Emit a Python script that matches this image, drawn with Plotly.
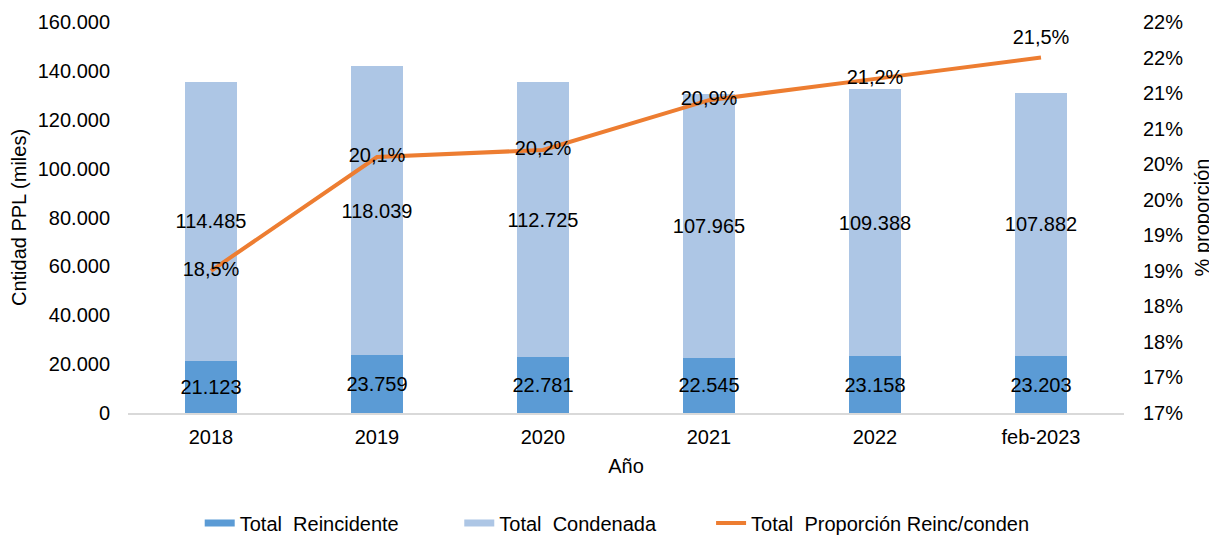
import plotly.graph_objects as go

categorias = ["2018", "2019", "2020", "2021", "2022", "feb-2023"]
reincidente = [21123, 23759, 22781, 22545, 23158, 23203]
condenada = [114485, 118039, 112725, 107965, 109388, 107882]
proporcion = [18.5, 20.1, 20.2, 20.9, 21.2, 21.5]

y_ticks = [0, 20000, 40000, 60000, 80000, 100000, 120000, 140000, 160000]
y2_ticks = [16.5, 17, 17.5, 18, 18.5, 19, 19.5, 20, 20.5, 21, 21.5, 22]
y2_ticktext = ["17%", "17%", "18%", "18%", "19%", "19%", "20%", "20%", "21%", "21%", "22%", "22%"]

nombres = ["Total\u00a0 Reincidente", "Total\u00a0 Condenada", "Total\u00a0 Proporción Reinc/conden"]
colores = ["#5B9BD5", "#ADC6E5", "#ED7D31"]

FONT = "Liberation Sans, Arial, sans-serif"
FS = 20

fig = go.Figure()
fig.add_trace(go.Bar(
    x=categorias, y=reincidente, name=nombres[0], showlegend=False,
    marker=dict(color=colores[0], line=dict(width=0)),
    texttemplate="%{y:,d}", textposition="inside", insidetextanchor="middle",
    textangle=0, constraintext="none",
    textfont=dict(color="#000000", size=FS, family=FONT),
))
fig.add_trace(go.Bar(
    x=categorias, y=condenada, name=nombres[1], showlegend=False,
    marker=dict(color=colores[1], line=dict(width=0)),
    texttemplate="%{y:,d}", textposition="inside", insidetextanchor="middle",
    textangle=0, constraintext="none",
    textfont=dict(color="#000000", size=FS, family=FONT),
))
fig.add_trace(go.Scatter(
    x=categorias, y=proporcion, name=nombres[2], showlegend=False,
    yaxis="y2", mode="lines+markers+text",
    line=dict(color=colores[2], width=4),
    marker=dict(size=12, color="rgba(0,0,0,0)"),
    texttemplate="%{y:.1f}%",
    textposition=["middle center"] * 5 + ["top center"],
    textfont=dict(color="#000000", size=FS, family=FONT),
    cliponaxis=False,
))
# legend entries (wide swatches like the original); trailing spaces give the gaps
for nombre, color, ancho, extra in zip(nombres, colores, [7, 7, 4], ["\u00a0" * 10, "\u00a0" * 9, ""]):
    fig.add_trace(go.Scatter(
        x=[None], y=[None], mode="lines", name=nombre + extra,
        line=dict(color=color, width=ancho), showlegend=True, hoverinfo="skip",
    ))

fig.update_layout(
    barmode="stack",
    bargap=0.687,
    separators=",.",
    width=1209, height=527,
    margin=dict(l=120, r=93, t=14, b=122, autoexpand=False),
    paper_bgcolor="white", plot_bgcolor="white",
    font=dict(family=FONT, size=FS, color="#000000"),
    showlegend=True,
    legend=dict(orientation="h", x=0.072, xanchor="left", y=-0.2813, yanchor="middle",
                font=dict(size=FS, family=FONT), traceorder="normal"),
    xaxis=dict(
        showline=True, linecolor="#D9D9D9", linewidth=1.5,
        showgrid=False, ticks="", ticklabelstandoff=5,
        title=dict(text="Año", standoff=12, font=dict(size=FS)),
        tickfont=dict(size=FS),
    ),
    yaxis=dict(
        range=[0, 160000], tickvals=y_ticks,
        tickformat=",d", showgrid=False, zeroline=False, showline=False, ticks="",
        ticklabelstandoff=17,
        title=dict(text="Cntidad PPL (miles)", standoff=8, font=dict(size=FS)),
        tickfont=dict(size=FS),
    ),
    yaxis2=dict(
        range=[16.5, 22], overlaying="y", side="right",
        tickvals=y2_ticks, ticktext=y2_ticktext,
        showgrid=False, zeroline=False, showline=False, ticks="",
        ticklabelstandoff=18,
        title=dict(text="% proporción", standoff=12, font=dict(size=FS)),
        tickfont=dict(size=FS),
    ),
)

fig.write_html("out.html")
